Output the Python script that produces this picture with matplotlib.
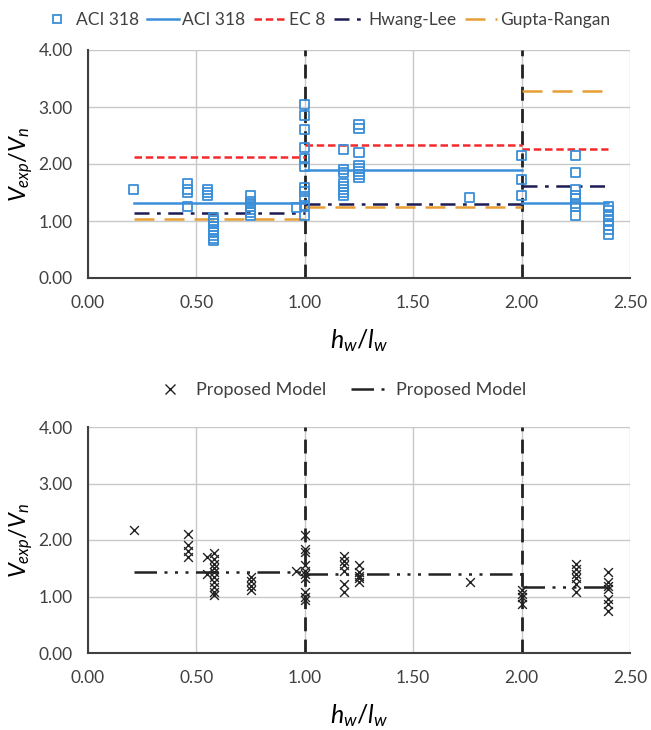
import matplotlib.pyplot as plt
from matplotlib.lines import Line2D

plt.rcParams['font.family'] = ['Lato', 'DejaVu Sans']
plt.rcParams['mathtext.fontset'] = 'custom'
plt.rcParams['mathtext.it'] = 'Lato:italic'
plt.rcParams['mathtext.rm'] = 'Lato'

# test data, top chart (squares)
top_x = ([0.21] + [0.46] * 4 + [0.55] * 3 + [0.58] * 9 + [0.75] * 7 + [0.96]
         + [1.0] * 11 + [1.18] * 8 + [1.25] * 8 + [1.76] + [2.0] * 3
         + [2.25] * 8 + [2.40] * 8)
top_y = ([1.56] + [1.65, 1.55, 1.50, 1.25] + [1.55, 1.50, 1.45]
         + [1.07, 1.00, 0.95, 0.90, 0.85, 0.80, 0.75, 0.70, 0.65]
         + [1.44, 1.35, 1.30, 1.25, 1.20, 1.15, 1.10] + [1.24]
         + [3.05, 2.85, 2.60, 2.29, 2.10, 1.96, 1.59, 1.52, 1.39, 1.28, 1.10]
         + [2.25, 1.90, 1.85, 1.65, 1.60, 1.55, 1.50, 1.45]
         + [2.70, 2.62, 2.20, 1.97, 1.92, 1.87, 1.82, 1.76] + [1.41]
         + [2.15, 1.73, 1.45]
         + [2.15, 1.85, 1.55, 1.45, 1.40, 1.30, 1.25, 1.10]
         + [1.25, 1.18, 1.12, 1.08, 1.00, 0.92, 0.85, 0.76])

# code predictions, piecewise by h_w/l_w range
ranges = [(0.21, 1.0), (1.0, 2.0), (2.0, 2.4)]
aci_318 = [1.31, 1.90, 1.32]
ec_8 = [2.12, 2.33, 2.26]
hwang_lee = [1.135, 1.30, 1.62]
gupta_rangan = [1.035, 1.24, 3.28]

# bottom chart (crosses)
bot_x = ([0.21] + [0.46] * 4 + [0.55] * 2 + [0.58] * 10 + [0.75] * 4 + [0.96]
         + [1.0] * 10 + [1.18] * 6 + [1.25] * 5 + [1.76] + [2.0] * 4
         + [2.25] * 6 + [2.40] * 7)
bot_y = ([2.18] + [2.10, 1.92, 1.80, 1.70] + [1.70, 1.40]
         + [1.77, 1.67, 1.58, 1.50, 1.43, 1.35, 1.25, 1.16, 1.08, 1.03]
         + [1.35, 1.28, 1.19, 1.12] + [1.46]
         + [2.08, 1.84, 1.78, 1.55, 1.46, 1.40, 1.32, 1.08, 0.99, 0.93]
         + [1.72, 1.63, 1.55, 1.46, 1.22, 1.08]
         + [1.55, 1.43, 1.37, 1.32, 1.25] + [1.25]
         + [1.12, 1.05, 0.99, 0.87]
         + [1.58, 1.49, 1.40, 1.32, 1.22, 1.08]
         + [1.43, 1.25, 1.19, 1.14, 0.96, 0.87, 0.75])
proposed = [1.44, 1.40, 1.17]

blue = '#3B8FD9'
red = '#F5292A'
navy = '#1C1C55'
orange = '#E89E35'
prop_dash = (0, (9, 3, 1.2, 3, 1.2, 3, 1.2, 3))


def style_axes(ax):
    ax.set_xlim(0, 2.5)
    ax.set_ylim(0, 4)
    ax.set_xticks([0, 0.5, 1.0, 1.5, 2.0, 2.5])
    ax.set_yticks([0, 1, 2, 3, 4])
    ax.xaxis.set_major_formatter(lambda v, p: f'{v:.2f}')
    ax.yaxis.set_major_formatter(lambda v, p: f'{v:.2f}')
    ax.grid(True, color='#c8c8c8', lw=1)
    ax.set_axisbelow(True)
    for s in ['top', 'right']:
        ax.spines[s].set_visible(False)
    for s in ['left', 'bottom']:
        ax.spines[s].set_color('#404040')
        ax.spines[s].set_linewidth(1.5)
    ax.tick_params(length=0, labelsize=12.5, colors='#404040')
    ax.tick_params(axis='x', pad=12)
    ax.tick_params(axis='y', pad=11)
    for xv in [1.0, 2.0]:
        ax.axvline(xv, color='#222222', lw=2, ls=(0, (5, 3)), zorder=1)
    ax.set_xlabel(r'$h_w/l_w$', fontsize=18, labelpad=12)
    ax.set_ylabel(r'$V_{exp}/V_n$', fontsize=17)
    ax.yaxis.set_label_coords(-0.098, 0.5)


fig = plt.figure(figsize=(6.51, 7.30), dpi=100)
ax1 = fig.add_axes([88 / 651, 1 - 278 / 730, 542 / 651, 228 / 730])
ax2 = fig.add_axes([88 / 651, 1 - 653 / 730, 542 / 651, 226 / 730])

style_axes(ax1)
for (x0, x1), a, e, h, g in zip(ranges, aci_318, ec_8, hwang_lee, gupta_rangan):
    ax1.plot([x0, x1], [e, e], color=red, lw=1.8, ls=(0, (3, 1.5)), zorder=2)
    ax1.plot([x0, x1], [g, g], color=orange, lw=1.8, ls=(0, (8, 4)), zorder=2)
    ax1.plot([x0, x1], [h, h], color=navy, lw=1.8, ls=(0, (6, 3, 1.5, 3)), zorder=2)
    ax1.plot([x0, x1], [a, a], color=blue, lw=1.8, zorder=3)
ax1.scatter(top_x, top_y, marker='s', s=42, facecolor='none',
            edgecolor=blue, lw=1.3, zorder=4)

handles1 = [
    Line2D([], [], marker='s', ls='none', mfc='none', mec=blue, ms=6, mew=1.3),
    Line2D([], [], color=blue, lw=1.8),
    Line2D([], [], color=red, lw=1.8, ls=(0, (3, 1.5))),
    Line2D([], [], color=navy, lw=1.8, ls=(0, (6, 3, 1.5, 3))),
    Line2D([], [], color=orange, lw=1.8, ls=(0, (8, 4))),
]
fig.legend(handles1, ['ACI 318', 'ACI 318', 'EC 8', 'Hwang-Lee', 'Gupta-Rangan'],
           loc='center', bbox_to_anchor=(0.5, 1 - 20 / 730), ncol=5,
           frameon=False, fontsize=12.5, handlelength=1.8, handletextpad=0.2,
           columnspacing=0.5, borderpad=0.2, labelcolor='#404040')

style_axes(ax2)
for (x0, x1), p in zip(ranges, proposed):
    ax2.plot([x0, x1], [p, p], color='#222222', lw=1.8, ls=prop_dash, zorder=2)
ax2.scatter(bot_x, bot_y, marker='x', s=40, color='#222222', lw=1.0, zorder=4)

handles2 = [
    Line2D([], [], marker='x', ls='none', color='#222222', ms=7, mew=1.0),
    Line2D([], [], color='#222222', lw=1.8, ls=prop_dash),
]
fig.legend(handles2, ['Proposed Model', 'Proposed Model'],
           loc='center', bbox_to_anchor=(0.52, 1 - 390 / 730), ncol=2,
           frameon=False, fontsize=13, handlelength=2.2, handletextpad=0.3,
           columnspacing=1.4, labelcolor='#404040')

fig.savefig('out.png', dpi=100)
